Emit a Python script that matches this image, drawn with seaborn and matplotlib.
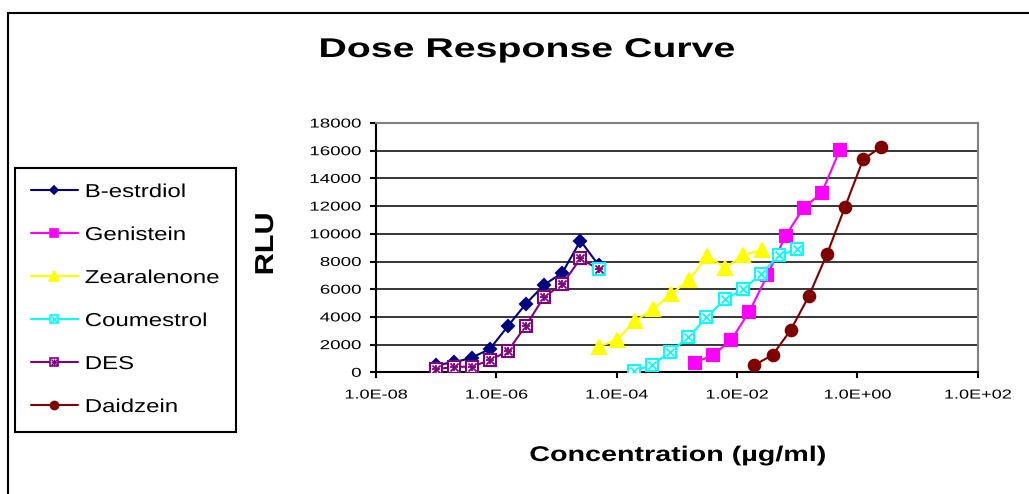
import matplotlib
matplotlib.use('Agg')
import pandas as pd
import matplotlib.pyplot as plt
import seaborn as sns
from matplotlib.lines import Line2D
from matplotlib.patches import Rectangle
from matplotlib.patheffects import AbstractPathEffect
from matplotlib.transforms import Affine2D
from matplotlib.ticker import NullLocator

# Values: concentration (ug/ml) and RLU per compound
best_conc = [1.0e-7, 2.0e-7, 3.9e-7, 7.8e-7, 1.56e-6, 3.1e-6, 6.25e-6, 1.25e-5, 2.5e-5, 5.0e-5]
best_rlu = [530, 720, 1060, 1680, 3340, 4950, 6320, 7190, 9500, 7740]

gen_conc = [2.0e-3, 4.0e-3, 8.0e-3, 1.6e-2, 3.2e-2, 6.4e-2, 0.128, 0.256, 0.512]
gen_rlu = [700, 1250, 2330, 4380, 7020, 9860, 11870, 12960, 16060]

zea_conc = [5.0e-5, 1.0e-4, 2.0e-4, 4.0e-4, 8.0e-4, 1.6e-3, 3.2e-3, 6.4e-3, 1.28e-2, 2.56e-2]
zea_rlu = [1850, 2330, 3700, 4540, 5650, 6660, 8390, 7550, 8460, 8820]

cou_conc = [1.95e-4, 3.9e-4, 7.8e-4, 1.56e-3, 3.1e-3, 6.25e-3, 1.25e-2, 2.5e-2, 5.0e-2, 0.1]
cou_rlu = [120, 530, 1490, 2520, 3970, 5260, 5990, 7090, 8460, 8870]
cou_lone_conc = [5.0e-5]
cou_lone_rlu = [7430]

des_conc = [1.0e-7, 2.0e-7, 3.9e-7, 7.8e-7, 1.56e-6, 3.1e-6, 6.25e-6, 1.25e-5, 2.5e-5, 5.0e-5]
des_rlu = [220, 390, 410, 870, 1540, 3370, 5460, 6350, 8220, 7430]

dai_conc = [0.0195, 0.039, 0.078, 0.156, 0.3125, 0.625, 1.25, 2.5]
dai_rlu = [530, 1250, 3050, 5500, 8530, 11950, 15380, 16270]

x_ticks = [1e-8, 1e-6, 1e-4, 1e-2, 1e0, 1e2]
y_ticks = [0, 2000, 4000, 6000, 8000, 10000, 12000, 14000, 16000, 18000]


class Stretch(AbstractPathEffect):
    # widen glyphs along the text direction (the source chart is stretched)
    def __init__(self, sx, anchor='center'):
        super().__init__()
        self.sx = sx
        self.anchor = anchor

    def draw_path(self, renderer, gc, tpath, affine, rgbFace=None):
        xs = tpath.vertices[:, 0]
        if len(xs) == 0:
            return
        if self.anchor == 'left':
            x0 = xs.min()
        elif self.anchor == 'right':
            x0 = xs.max()
        else:
            x0 = (xs.min() + xs.max()) / 2
        t = Affine2D().translate(-x0, 0).scale(self.sx, 1).translate(x0, 0)
        renderer.draw_path(gc, tpath, t + affine, rgbFace)


sns.set_style('white', rc={'text.color': 'black', 'axes.labelcolor': 'black',
                           'xtick.color': 'black', 'ytick.color': 'black'})
plt.rcParams['font.family'] = ['Liberation Sans', 'DejaVu Sans']

W, H = 1029, 494
fig = plt.figure(figsize=(W / 100, H / 100), dpi=100)
ax = fig.add_axes([376 / W, 1 - 372.3 / H, 601.7 / W, 249.3 / H])
ax.set_xscale('log')

# name, x, y, colour, marker, size, face, overlays
series = [
    ('B-estrdiol', best_conc, best_rlu, '#000080', 'D', 5.8, '#000080', []),
    ('Genistein', gen_conc, gen_rlu, '#FF00FF', 's', 8, '#FF00FF', []),
    ('Zearalenone', zea_conc, zea_rlu, '#FFFF00', '^', 9.5, '#FFFF00', []),
    ('Coumestrol', cou_conc, cou_rlu, '#00FFFF', 's', 8.5, 'white', ['x']),
    ('DES', des_conc, des_rlu, '#800080', 's', 8.5, 'white', ['x', '+']),
    ('Daidzein', dai_conc, dai_rlu, '#800000', 'o', 8.3, '#800000', []),
]

handles = []
for i, (name, xs, ys, col, m, ms, fc, extra) in enumerate(series):
    df = pd.DataFrame({'conc': xs, 'rlu': ys})
    z = 3 + i
    sns.lineplot(data=df, x='conc', y='rlu', color=col, marker=m, markersize=ms,
                 markerfacecolor=fc, markeredgecolor=col, markeredgewidth=1.5,
                 linewidth=1.5, estimator=None, sort=False, ax=ax, zorder=z)
    for e in extra:
        sns.scatterplot(data=df, x='conc', y='rlu', marker=e, color=col, s=34,
                        linewidth=1.3, ax=ax, zorder=z + 0.5, legend=False)
    base = Line2D([], [], color=col, lw=1.5, marker=m, markersize=ms * 0.7,
                  markerfacecolor=fc, markeredgecolor=col, markeredgewidth=1.2)
    if extra:
        marks = [Line2D([], [], ls='none', marker=e, color=col, markersize=ms * 0.55,
                        markeredgewidth=1) for e in extra]
        handles.append(tuple([base] + marks))
    else:
        handles.append(base)

# lone Coumestrol box sitting on the last DES point
sns.lineplot(x=cou_lone_conc, y=cou_lone_rlu, color='#00FFFF', marker='s', markersize=8.5,
             markerfacecolor='none', markeredgecolor='#00FFFF', markeredgewidth=1.5,
             ax=ax, zorder=20)

ax.set_xlim(1e-8, 1e2)
ax.set_ylim(0, 18000)
ax.set_xticks(x_ticks)
ax.set_xticklabels([f'{t:.1E}' for t in x_ticks])
ax.xaxis.set_minor_locator(NullLocator())
ax.set_yticks(y_ticks)
ax.set_yticklabels([str(t) for t in y_ticks])
ax.set_xlabel('')
ax.set_ylabel('')
ax.tick_params(axis='both', bottom=True, left=True, direction='out', length=4,
               width=1.5, color='black', labelsize=9.3, labelcolor='black')
ax.tick_params(axis='x', pad=8.4)
ax.tick_params(axis='y', pad=6.5)
ax.grid(axis='y', color='black', linewidth=1.1)
ax.grid(axis='x', visible=False)
ax.set_axisbelow(True)
for side in ['left', 'bottom']:
    ax.spines[side].set_color('black')
    ax.spines[side].set_linewidth(1.5)
for side in ['top', 'right']:
    ax.spines[side].set_color('#808080')
    ax.spines[side].set_linewidth(1.5)

for lab in ax.get_xticklabels():
    lab.set_path_effects([Stretch(1.4)])
for lab in ax.get_yticklabels():
    lab.set_path_effects([Stretch(1.45, 'right')])

title = fig.text(526.5 / W, 1 - 57 / H, 'Dose Response Curve', ha='center', va='baseline',
                 fontsize=19.5, fontweight='bold')
title.set_path_effects([Stretch(1.45)])
xlab = fig.text(678 / W, 1 - 461 / H, 'Concentration (µg/ml)', ha='center', va='baseline',
                fontsize=15.3, fontweight='bold')
xlab.set_path_effects([Stretch(1.35)])
ylab = fig.text(266 / W, 1 - 244 / H, 'RLU', ha='center', va='center', rotation=90,
                fontsize=18.7, fontweight='bold')
ylab.set_path_effects([Stretch(1.18)])

leg = fig.legend(handles, [s[0] for s in series], loc='upper left',
                 bbox_to_anchor=(15 / W, 1 - 429 / H, 221 / W, 261 / H), mode='expand',
                 fontsize=13.5, frameon=True, fancybox=False, edgecolor='black',
                 framealpha=1, borderpad=0.85, labelspacing=1.38, handlelength=2.5,
                 handletextpad=0.37, borderaxespad=0)
leg.get_frame().set_linewidth(1.5)
for t in leg.get_texts():
    t.set_path_effects([Stretch(1.28, 'left')])

# outer chart border (only top and left edges fall inside the picture)
fig.patches.append(Rectangle((8 / W, -0.5), 2, 0.5 + 1 - 13.5 / H, transform=fig.transFigure,
                             fill=False, edgecolor='black', linewidth=1.5))

fig.savefig('out.png', dpi=100)
